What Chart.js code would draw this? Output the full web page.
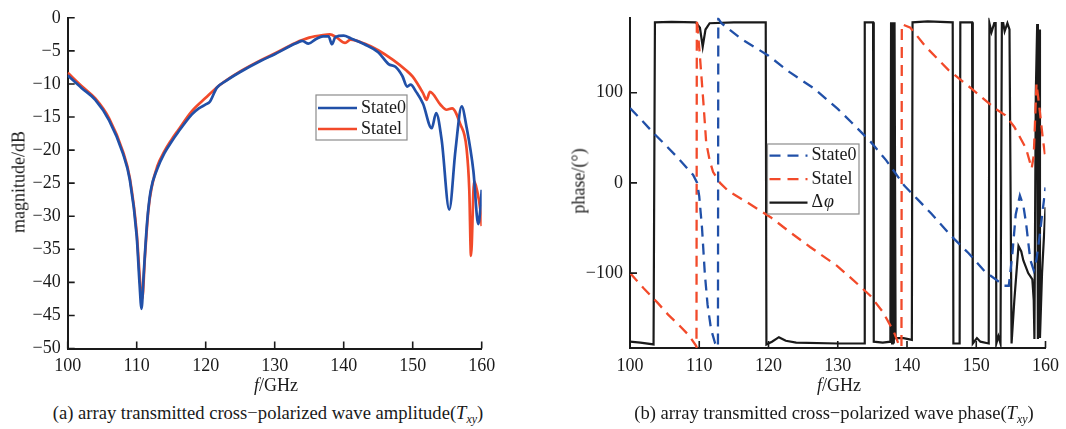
<!DOCTYPE html>
<html>
<head>
<meta charset="utf-8">
<script src="https://cdn.jsdelivr.net/npm/chart.js@4.4.1/dist/chart.umd.min.js"></script>
<style>
    body { margin: 0; background: #fff; width: 1066px; height: 429px; position: relative; overflow: hidden;
           font-family: 'Liberation Serif', 'Times New Roman', serif; color: #1a1a1a; }
    canvas { position: absolute; top: 0; }
    #ampChart { left: 0; }
    #phaseChart { left: 540px; }
    .lbl { position: absolute; font-size: 18px; white-space: nowrap; transform: translate(-50%, -50%); }
    .cap { font-size: 18.6px; }
    .rot { transform: translate(-50%, -50%) rotate(-90deg); }
    .lbl sub { font-size: 12px; vertical-align: -4px; }
</style>
</head>
<body>
<canvas id="ampChart" width="520" height="375"></canvas>
<canvas id="phaseChart" width="526" height="375"></canvas>

<div class="lbl rot" style="left:19px;top:182px">magnitude/dB</div>
<div class="lbl rot" style="left:579px;top:181px">phase/(°)</div>
<div class="lbl" style="left:276px;top:385px"><i>f</i>/GHz</div>
<div class="lbl" style="left:839px;top:385px"><i>f</i>/GHz</div>
<div class="lbl cap" style="left:268px;top:414px">(a) array transmitted cross−polarized wave amplitude(<i>T</i><sub><i>xy</i></sub>)</div>
<div class="lbl cap" style="left:834px;top:414px">(b) array transmitted cross−polarized wave phase(<i>T</i><sub><i>xy</i></sub>)</div>

<script>
// tick labels
const freqTicks = [100, 110, 120, 130, 140, 150, 160]
const magTicks = [0, -5, -10, -15, -20, -25, -30, -35, -40, -45, -50]
const phaseTicks = [-100, 0, 100]

// (a) amplitude, dB
const freqMag0 = [100, 102, 104, 106, 108, 109, 110, 110.4, 110.7, 111, 111.5, 112, 113, 114, 115, 116, 118, 119, 120, 120.6, 121.6, 123, 125, 128, 130, 133, 134, 134.9, 136, 137, 137.8, 138.3, 138.8, 140, 141, 143, 145, 146.5, 147.5, 148.5, 149.2, 149.7, 150.5, 151.5, 152.75, 153.4, 154.2, 155.3, 156.2, 157.1, 157.8, 158.8, 159.5, 159.8, 160]
const magState0 = [-8.7, -10.6, -12.4, -15.5, -20.5, -24.5, -33, -40, -44, -39, -31, -26.3, -22.8, -20.5, -18.8, -17.3, -14.6, -13.7, -13.1, -12.7, -10.6, -9.5, -8.2, -6.5, -5.5, -3.9, -3.5, -3.9, -3.2, -2.8, -2.8, -4.0, -2.9, -2.7, -3.1, -4.0, -5.2, -7.0, -7.4, -8.8, -10.4, -10.1, -11.2, -13, -16.7, -14.4, -18.5, -29, -20, -13.4, -16.5, -23.2, -31.2, -29, -26]

const freqMag1 = [100, 102, 104, 106, 108, 109, 110, 110.5, 110.8, 111.2, 111.7, 112.2, 113, 114, 115, 116, 118, 120, 122, 125, 128, 130, 133, 135, 137, 138, 139, 140.2, 141, 143, 145, 147.2, 149, 150, 151.5, 152, 152.5, 154, 154.9, 155.7, 156.9, 157.8, 158.2, 158.45, 158.9, 159.3, 159.8, 160]
const magState1 = [-8.3, -10.3, -12.2, -15.2, -20.2, -24.2, -32.5, -40, -42.5, -36, -29, -25.5, -22.4, -20.2, -18.5, -17, -14.1, -12.1, -10.2, -8.1, -6.4, -5.4, -3.8, -3.0, -2.6, -2.5, -3.0, -3.8, -3.3, -3.9, -4.9, -6.4, -7.9, -8.9, -11.4, -12.4, -11.2, -13.1, -13.9, -13.7, -16.1, -19.7, -26, -36, -24.7, -26, -29, -31.5]

// (b) phase, degrees
const freqPh0 = [100, 101.5, 103.3, 105, 107, 109.1, 109.7, 110, 110.4, 110.8, 111.2, 111.7, 112.3, 112.7, 112.75, 113.2, 116, 120, 123, 126.5, 130, 132, 134.7, 137, 139.6, 141.5, 143.5, 146.4, 148.9, 151.2, 153, 154, 154.7, 155.2, 155.7, 156.3, 156.8, 157.2, 157.8, 158.3, 158.7, 159.2, 159.6, 160]
const phaseState0 = [83, 71, 56, 43, 27, 9, 0, -15, -50, -100, -135, -162, -178, -182, 182, 177, 160, 141, 123, 105, 82, 67, 46, 25, -3, -18, -34, -59, -78, -98, -108, -114, -114, -80, -35, -14, -25, -45, -85, -97, -85, -56, -30, -5]

const freqPh1 = [100, 102, 104, 105.5, 107, 108.5, 109.5, 109.6, 109.65, 110.1, 110.6, 111, 111.5, 112, 113, 114.2, 117, 120.3, 123, 126, 129.9, 132, 134.7, 136.5, 138.1, 138.9, 139.2, 139.25, 140.5, 142.7, 146, 149.4, 152.8, 154.2, 155.5, 157.2, 158, 158.3, 158.7, 159.1, 159.6, 160]
const phaseState1 = [-100, -117, -133, -146, -157, -169, -180, -182, 182, 140, 89, 45, 25, 12, 0, -9, -22, -38, -54, -71, -92, -106, -125, -143, -165, -181, -182, 176, 172, 151, 125, 104, 82, 75, 62, 38, 16, 30, 110, 85, 50, 27]

const freqDelta = [100, 101.5, 103.4, 103.6, 106, 109.5, 110.1, 110.5, 110.9, 111.5, 115, 119.6, 119.7, 120.5, 121.5, 122.5, 124, 130, 133.8, 133.9, 135.1, 135.2, 136.5, 137.6, 137.7, 137.85, 137.95, 138.1, 138.2, 138.35, 139.5, 140.7, 140.8, 143, 146.6, 146.7, 147.6, 147.7, 149.4, 149.5, 150.1, 150.6, 151.8, 151.9, 152.2, 152.6, 152.8, 152.9, 153.2, 153.5, 153.7, 153.9, 154.1, 154.5, 154.8, 155.1, 155.5, 156.1, 156.5, 156.8, 157.5, 158.1, 158.3, 158.4, 158.6, 158.8, 158.9, 159, 159.1, 159.2, 159.5, 160]
const deltaPhi = [-176, -177, -179, 178, 178.5, 178, 172, 151, 170, 177, 178, 178, -179, -176, -171, -175, -177, -178, -178, 178, 178, -176, -177, -176, 178, -178, 178, -178, 178, -172, -172, -174, 178, 179, 178, -178, -178, 178, 178, -178, -172, -176, -178, 177, 167, 177, 177, -178, -170, -178, 177, 177, 168, 177, 170, -178, -130, -70, -76, -86, -100, -107, -130, -173, 100, 176, -173, 100, 170, -172, -100, -27]

const BLUE = '#2150a8'
const RED = '#f24a2a'
const INK = '#1a1a1a'
const FONT = "'Liberation Serif', 'Times New Roman', serif"

const pts = (xs, ys) => xs.map((x, i) => ({ x: x, y: ys[i] }))
const minus = v => String(v).replace('-', '\u2212')

// ticks point into the plot, like the original figure
const inwardTicks = {
    id: 'inwardTicks',
    afterDatasetsDraw(chart) {
        const { ctx, chartArea, scales } = chart
        ctx.save()
        ctx.strokeStyle = INK
        ctx.lineWidth = 1.6
        ctx.beginPath()
        scales.x.ticks.forEach(t => {
            const px = scales.x.getPixelForValue(t.value)
            ctx.moveTo(px, chartArea.bottom)
            ctx.lineTo(px, chartArea.bottom - 7)
        })
        scales.y.ticks.forEach(t => {
            const py = scales.y.getPixelForValue(t.value)
            ctx.moveTo(chartArea.left, py)
            ctx.lineTo(chartArea.left + 7, py)
        })
        ctx.stroke()
        ctx.restore()
    }
}

// boxed legend sitting inside the plot
const boxLegend = {
    id: 'boxLegend',
    afterDraw(chart, args, opts) {
        const { ctx } = chart
        ctx.save()
        ctx.fillStyle = '#fff'
        ctx.fillRect(opts.x, opts.y, opts.w, opts.h)
        ctx.strokeStyle = '#8c8c8c'
        ctx.lineWidth = 1.2
        ctx.strokeRect(opts.x, opts.y, opts.w, opts.h)
        chart.data.datasets.forEach((ds, i) => {
            const yy = opts.y + opts.first + i * opts.gap
            ctx.strokeStyle = ds.borderColor
            ctx.lineWidth = ds.borderWidth
            ctx.setLineDash(ds.borderDash || [])
            ctx.beginPath()
            ctx.moveTo(opts.x + 2, yy)
            ctx.lineTo(opts.x + 2 + opts.line, yy)
            ctx.stroke()
            ctx.setLineDash([])
            ctx.fillStyle = INK
            ctx.textBaseline = 'middle'
            const tx = opts.x + opts.line + 6
            if (ds.italicTail) {
                ctx.font = '18px ' + FONT
                const head = ds.label.slice(0, 1)
                ctx.fillText(head, tx, yy)
                const w = ctx.measureText(head).width
                ctx.font = 'italic 18px ' + FONT
                ctx.fillText(ds.label.slice(1), tx + w + 1, yy)
            } else {
                ctx.font = '18px ' + FONT
                ctx.fillText(ds.label, tx, yy)
            }
        })
        ctx.restore()
    }
}

const baseScales = (yMin, yMax, yTicks, yWidth, xHeight) => ({
    x: {
        type: 'linear', min: 100, max: 160,
        afterBuildTicks: s => { s.ticks = freqTicks.map(v => ({ value: v })) },
        afterFit: s => { s.height = xHeight },
        grid: { display: false, drawTicks: false },
        border: { color: INK, width: 2 },
        ticks: { color: INK, padding: 7, font: { family: FONT, size: 18 }, maxRotation: 0 }
    },
    y: {
        type: 'linear', min: yMin, max: yMax,
        afterBuildTicks: s => { s.ticks = yTicks.map(v => ({ value: v })) },
        afterFit: s => { s.width = yWidth },
        grid: { display: false, drawTicks: false },
        border: { color: INK, width: 2 },
        ticks: { color: INK, padding: 7, font: { family: FONT, size: 18 }, callback: v => minus(v) }
    }
})

new Chart(document.getElementById('ampChart'), {
    type: 'line',
    data: {
        datasets: [{
            label: 'State0',
            data: pts(freqMag0, magState0),
            borderColor: BLUE,
            borderWidth: 2.7,
            pointRadius: 0,
            cubicInterpolationMode: 'monotone'
        }, {
            label: 'Statel',
            data: pts(freqMag1, magState1),
            borderColor: RED,
            borderWidth: 2.7,
            pointRadius: 0,
            cubicInterpolationMode: 'monotone'
        }]
    },
    options: {
        responsive: false,
        animation: false,
        layout: { padding: { top: 16, right: 38.3, left: 0, bottom: 0 } },
        scales: baseScales(-50, 0, magTicks, 67.7, 26.5),
        plugins: {
            legend: { display: false },
            tooltip: { enabled: false },
            boxLegend: { x: 316, y: 95, w: 91, h: 45, first: 13, gap: 21, line: 39 }
        }
    },
    plugins: [inwardTicks, boxLegend]
})

new Chart(document.getElementById('phaseChart'), {
    type: 'line',
    data: {
        datasets: [{
            label: 'State0',
            data: pts(freqPh0, phaseState0),
            borderColor: BLUE,
            borderWidth: 2.3,
            borderDash: [11, 7],
            pointRadius: 0,
            tension: 0
        }, {
            label: 'Statel',
            data: pts(freqPh1, phaseState1),
            borderColor: RED,
            borderWidth: 2.3,
            borderDash: [11, 7],
            pointRadius: 0,
            tension: 0
        }, {
            label: 'Δφ',
            italicTail: true,
            data: pts(freqDelta, deltaPhi),
            borderColor: INK,
            borderWidth: 2.2,
            pointRadius: 0,
            tension: 0
        }]
    },
    options: {
        responsive: false,
        animation: false,
        layout: { padding: { top: 15, right: 19, left: 0, bottom: 0 } },
        scales: baseScales(-183, 183, phaseTicks, 90, 27),
        plugins: {
            legend: { display: false },
            tooltip: { enabled: false },
            boxLegend: { x: 227.5, y: 144, w: 91.5, h: 70, first: 11.6, gap: 23.5, line: 38 }
        }
    },
    plugins: [inwardTicks, boxLegend]
})
</script>
</body>
</html>
